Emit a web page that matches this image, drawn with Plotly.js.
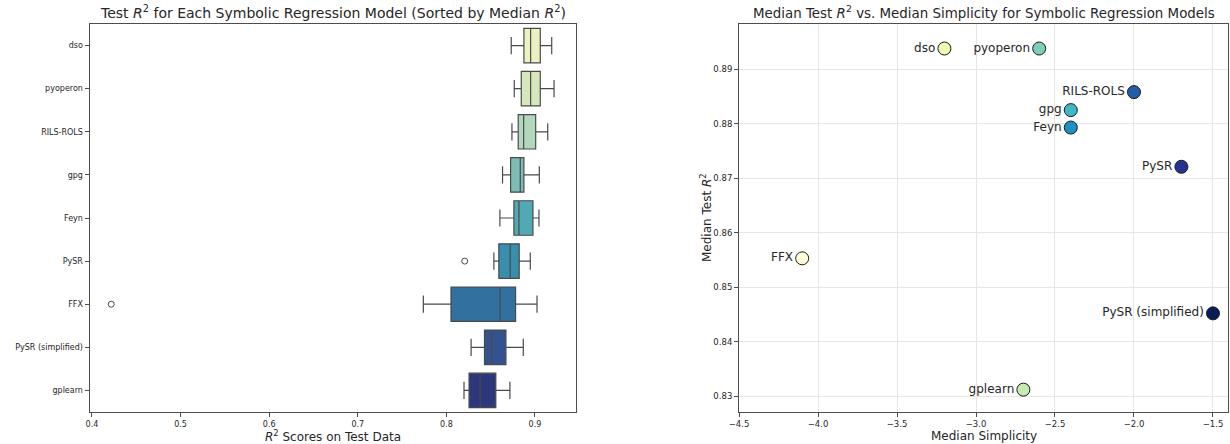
<!DOCTYPE html>
<html>
<head>
<meta charset="utf-8">
<script src="https://cdn.plot.ly/plotly-3.0.1.min.js"></script>
<style>
  html, body { margin: 0; padding: 0; background: #fff; }
  #chart { width: 1230px; height: 444px; }
</style>
</head>
<body>
<div id="chart"></div>
<script>
// ---- Data: left panel (box statistics, sorted by median R^2) ----
const models = ['dso', 'pyoperon', 'RILS-ROLS', 'gpg', 'Feyn', 'PySR', 'FFX', 'PySR (simplified)', 'gplearn'];
const lowerWhisker = [0.8732, 0.8766, 0.8740, 0.8634, 0.8604, 0.8536, 0.7740, 0.8279, 0.8199];
const q1Values     = [0.8875, 0.8845, 0.8811, 0.8725, 0.8762, 0.8592, 0.8052, 0.8430, 0.8256];
const medianValues = [0.8951, 0.8951, 0.8872, 0.8834, 0.8819, 0.8720, 0.8607, 0.8510, 0.8381];
const q3Values     = [0.9060, 0.9060, 0.9008, 0.8875, 0.8977, 0.8822, 0.8781, 0.8672, 0.8558];
const upperWhisker = [0.9189, 0.9215, 0.9144, 0.9049, 0.9045, 0.8947, 0.9023, 0.8868, 0.8717];
const outlierModels = ['PySR', 'FFX'];
const outlierValues = [0.8207, 0.4217];

// ---- Data: right panel (median simplicity vs median test R^2) ----
const scatterModels = ['dso', 'pyoperon', 'RILS-ROLS', 'gpg', 'Feyn', 'PySR', 'FFX', 'PySR (simplified)', 'gplearn'];
const medianSimplicity = [-3.2, -2.6, -2.0, -2.4, -2.4, -1.7, -4.1, -1.5, -2.7];
const medianTestR2 = [0.8938, 0.8938, 0.8858, 0.8825, 0.8793, 0.8721, 0.8553, 0.8452, 0.8312];

// ---- Tick labels ----
const leftXTicks = [0.4, 0.5, 0.6, 0.7, 0.8, 0.9];
const rightXTicks = [-4.5, -4.0, -3.5, -3.0, -2.5, -2.0, -1.5];
const rightYTicks = [0.83, 0.84, 0.85, 0.86, 0.87, 0.88, 0.89];

// ---- Styles ----
const boxColors = ['#ebf1c1', '#d5e7bb', '#b1d8ba', '#7ebdb5', '#51a9b4', '#388fad', '#3270a0', '#335290', '#2c387b'];
const pointColors = ['#edf8b1', '#7fcdbb', '#225ea8', '#41b6c4', '#1d91c0', '#253494', '#ffffd9', '#081d58', '#c7e9b4'];
const FONT = 'DejaVu Sans, sans-serif';
const TXT = '#262626';
const SPINE = '#4d4d4d';

const traces = [];
models.forEach((m, i) => {
  traces.push({
    type: 'box',
    orientation: 'h',
    y: [m],
    q1: [q1Values[i]],
    median: [medianValues[i]],
    q3: [q3Values[i]],
    lowerfence: [lowerWhisker[i]],
    upperfence: [upperWhisker[i]],
    width: 0.8,
    whiskerwidth: 0.5,
    fillcolor: boxColors[i],
    line: { color: '#4a4a4a', width: 1.2 },
    boxpoints: false,
    showlegend: false,
    xaxis: 'x', yaxis: 'y',
    hoverinfo: 'skip'
  });
});
traces.push({
  type: 'scatter', mode: 'markers',
  x: outlierValues, y: outlierModels,
  marker: { symbol: 'circle-open', size: 6, color: '#4a4a4a', line: { width: 1, color: '#4a4a4a' } },
  showlegend: false, xaxis: 'x', yaxis: 'y', hoverinfo: 'skip'
});
traces.push({
  type: 'scatter', mode: 'markers+text',
  x: medianSimplicity, y: medianTestR2,
  text: scatterModels,
  textposition: 'middle left',
  textfont: { family: FONT, size: 12, color: TXT },
  marker: { size: 13, color: pointColors, line: { width: 1, color: '#1a1a1a' } },
  showlegend: false, xaxis: 'x2', yaxis: 'y2', hoverinfo: 'skip', cliponaxis: false
});

const W = 1230, H = 444;
const L1 = 89.5, R1 = 576, L2 = 739, R2 = 1228, T = 24, B = 412;
const axisCommon = {
  showline: true, mirror: true, linecolor: SPINE, linewidth: 1,
  ticks: 'outside', ticklen: 4, tickwidth: 1, tickcolor: SPINE,
  zeroline: false, fixedrange: true
};

const layout = {
  width: W, height: H,
  margin: { l: 0, r: 0, t: 0, b: 0 },
  paper_bgcolor: '#ffffff', plot_bgcolor: '#ffffff',
  font: { family: FONT, color: TXT },
  showlegend: false,
  boxmode: 'overlay',
  xaxis: Object.assign({}, axisCommon, {
    domain: [L1 / W, R1 / W], anchor: 'y',
    range: [0.3972, 0.9463],
    tickvals: leftXTicks, ticktext: leftXTicks.map(v => v.toFixed(1)),
    showgrid: false, tickfont: { size: 8, family: FONT, color: TXT }
  }),
  yaxis: Object.assign({}, axisCommon, {
    domain: [1 - B / H, 1 - T / H], anchor: 'x',
    type: 'category', categoryorder: 'array', categoryarray: models,
    range: [8.5, -0.5],
    showgrid: false, tickfont: { size: 8, family: FONT, color: TXT }
  }),
  xaxis2: Object.assign({}, axisCommon, {
    domain: [L2 / W, R2 / W], anchor: 'y2',
    range: [-4.5, -1.405],
    tickvals: rightXTicks, ticktext: rightXTicks.map(v => (v < 0 ? '\u2212' : '') + Math.abs(v).toFixed(1)),
    showgrid: true, gridcolor: '#e6e6e6', gridwidth: 1,
    tickfont: { size: 8.5, family: FONT, color: TXT }
  }),
  yaxis2: Object.assign({}, axisCommon, {
    domain: [1 - B / H, 1 - T / H], anchor: 'x2',
    range: [0.8271, 0.8983],
    tickvals: rightYTicks, ticktext: rightYTicks.map(v => v.toFixed(2)),
    showgrid: true, gridcolor: '#e6e6e6', gridwidth: 1,
    tickfont: { size: 8.5, family: FONT, color: TXT }
  }),
  annotations: [
    { text: 'Test <i>R</i><sup>2</sup> for Each Symbolic Regression Model (Sorted by Median <i>R</i><sup>2</sup>)',
      xref: 'paper', yref: 'paper', x: (L1 + R1) / 2 / W, y: 1 - 12.5 / H,
      xanchor: 'center', yanchor: 'middle', showarrow: false,
      font: { size: 14, family: FONT, color: TXT } },
    { text: 'Median Test <i>R</i><sup>2</sup> vs. Median Simplicity for Symbolic Regression Models',
      xref: 'paper', yref: 'paper', x: (L2 + R2) / 2 / W, y: 1 - 12.5 / H,
      xanchor: 'center', yanchor: 'middle', showarrow: false,
      font: { size: 13.4, family: FONT, color: TXT } },
    { text: '<i>R</i><sup>2</sup> Scores on Test Data',
      xref: 'paper', yref: 'paper', x: (L1 + R1) / 2 / W, y: 1 - 436 / H,
      xanchor: 'center', yanchor: 'middle', showarrow: false,
      font: { size: 12, family: FONT, color: TXT } },
    { text: 'Median Simplicity',
      xref: 'paper', yref: 'paper', x: (L2 + R2) / 2 / W, y: 1 - 436 / H,
      xanchor: 'center', yanchor: 'middle', showarrow: false,
      font: { size: 12, family: FONT, color: TXT } },
    { text: 'Median Test <i>R</i><sup>2</sup>',
      xref: 'paper', yref: 'paper', x: 706 / W, y: 1 - ((T + B) / 2) / H,
      xanchor: 'center', yanchor: 'middle', textangle: -90, showarrow: false,
      font: { size: 12, family: FONT, color: TXT } }
  ]
};

Plotly.newPlot('chart', traces, layout, { staticPlot: true, displayModeBar: false });
</script>
</body>
</html>
